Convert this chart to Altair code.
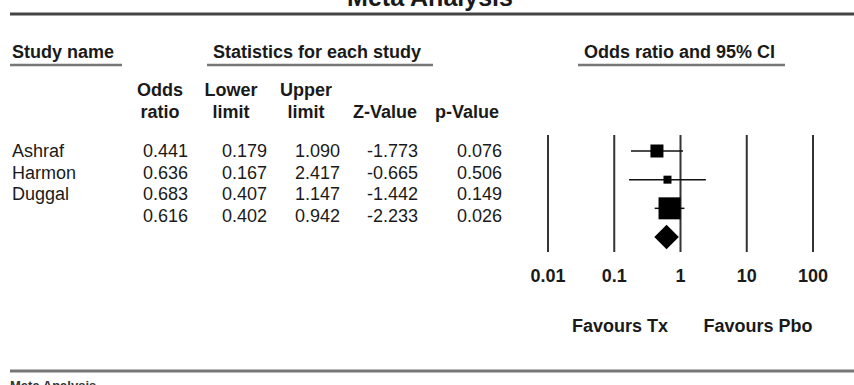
import altair as alt
import pandas as pd

# ---- data ----
studies = ["Ashraf", "Harmon", "Duggal", ""]
odds_ratio = [0.441, 0.636, 0.683, 0.616]
lower_limit = [0.179, 0.167, 0.407, 0.402]
upper_limit = [1.090, 2.417, 1.147, 0.942]
z_value = [-1.773, -0.665, -1.442, -2.233]
p_value = [0.076, 0.506, 0.149, 0.026]
# relative weights (%)
weights = [23.6, 8.9, 67.5]

header_line1 = ["Odds", "Lower", "Upper", "", ""]
header_line2 = ["ratio", "limit", "limit", "Z-Value", "p-Value"]

tick_values = [0.01, 0.1, 1, 10, 100]
tick_labels = ["0.01", "0.1", "1", "10", "100"]

FONT = "Liberation Sans"
INK = "#1a1a1a"

# column layout (pixels): right edges of values, centres of headers
col_right = [188, 267, 340, 418, 502]
col_center = [160, 231, 306, 385, 467]

rows = list(range(len(studies)))
study_df = pd.DataFrame({
    "row": rows[:3], "study": studies[:3], "or": odds_ratio[:3],
    "lo": lower_limit[:3], "hi": upper_limit[:3], "w": weights,
})
summary_df = pd.DataFrame({"row": [3], "or": [odds_ratio[3]],
                           "lo": [lower_limit[3]], "hi": [upper_limit[3]]})
names_df = pd.DataFrame({"row": rows, "study": studies})
values = [odds_ratio, lower_limit, upper_limit, z_value, p_value]
tick_df = pd.DataFrame({"t": tick_values, "label": tick_labels})

# ---- scales (pixel ranges) ----
x_log = alt.Scale(type="log", domain=[0.01, 100], range=[548, 813], nice=False)
y_forest = alt.Scale(domain=[0, 3], range=[151, 237], zero=False, nice=False)
y_table = alt.Scale(domain=[0, 3], range=[152, 217], zero=False, nice=False)

dummy = pd.DataFrame({"a": [0]})


def hrule(x1, x2, y, color, width):
    return alt.Chart(dummy).mark_rule(color=color, strokeWidth=width).encode(
        x=alt.value(x1), x2=alt.value(x2), y=alt.value(y))


def label(text, x, y, size=18, bold=True, align="left", baseline="middle", color=INK):
    return alt.Chart(dummy).mark_text(
        text=text, font=FONT, fontSize=size, fontWeight="bold" if bold else "normal",
        align=align, baseline=baseline, color=color,
    ).encode(x=alt.value(x), y=alt.value(y))


# decorations
title = label("Meta Analysis", 430, 6, size=25, align="center", baseline="alphabetic")
top_line = hrule(10, 854, 14, "#444", 3)
bottom_line = hrule(10, 854, 371, "#777", 3)
foot = label("Meta Analysis", 10, 380, size=13, baseline="top", color="#333")

h_study = label("Study name", 12, 53)
h_stats = label("Statistics for each study", 213, 53)
h_forest = label("Odds ratio and 95% CI", 584, 53)
u1 = hrule(10, 122, 65, "#777", 2.5)
u2 = hrule(207, 433, 65, "#777", 2.5)
u3 = hrule(578, 785, 65, "#777", 2.5)

headers = []
for h1, h2, cx in zip(header_line1, header_line2, col_center):
    if h1:
        headers.append(label(h1, cx, 91, align="center"))
    headers.append(label(h2, cx, 113, align="center"))

names = alt.Chart(names_df).mark_text(font=FONT, fontSize=18, align="left",
                                      baseline="middle", color=INK).encode(
    x=alt.value(12), y=alt.Y("row:Q", scale=y_table, axis=None), text="study:N")

cells = []
for vals, xr in zip(values, col_right):
    cdf = pd.DataFrame({"row": rows, "text": [f"{v:.3f}" for v in vals]})
    cells.append(alt.Chart(cdf).mark_text(font=FONT, fontSize=18, align="right",
                                          baseline="middle", color=INK).encode(
        x=alt.value(xr), y=alt.Y("row:Q", scale=y_table, axis=None), text="text:N"))

# forest plot
refs = alt.Chart(tick_df).mark_rule(color="#333", strokeWidth=2).encode(
    x=alt.X("t:Q", scale=x_log, axis=None), y=alt.value(135), y2=alt.value(252))
ticks = alt.Chart(tick_df).mark_text(font=FONT, fontSize=18, fontWeight="bold",
                                     align="center", baseline="middle", color=INK).encode(
    x=alt.X("t:Q", scale=x_log, axis=None), y=alt.value(277), text="label:N")
ci = alt.Chart(study_df).mark_rule(color="#111", strokeWidth=1.5).encode(
    x=alt.X("lo:Q", scale=x_log, axis=None), x2="hi:Q",
    y=alt.Y("row:Q", scale=y_forest, axis=None))
squares = alt.Chart(study_df).mark_square(color="#000", opacity=1, filled=True).encode(
    x=alt.X("or:Q", scale=x_log, axis=None),
    y=alt.Y("row:Q", scale=y_forest, axis=None),
    size=alt.Size("w:Q", scale=alt.Scale(domain=[0, 67.5], range=[0, 484]), legend=None))
diamond = alt.Chart(summary_df).mark_point(shape="diamond", filled=True, color="#000",
                                           opacity=1, size=600).encode(
    x=alt.X("or:Q", scale=x_log, axis=None),
    y=alt.Y("row:Q", scale=y_forest, axis=None))
fav_tx = label("Favours Tx", 620, 327, align="center")
fav_pbo = label("Favours Pbo", 758, 327, align="center")

chart = alt.layer(
    title, top_line, bottom_line, foot,
    h_study, h_stats, h_forest, u1, u2, u3,
    *headers, names, *cells,
    refs, ticks, ci, squares, diamond, fav_tx, fav_pbo,
).resolve_scale(
    x="independent", y="independent", size="independent"
).properties(
    width=854, height=385, padding=0,
    autosize=alt.AutoSizeParams(type="none"),
).configure_view(stroke=None)

chart.save("out.html", embed_options={"renderer": "svg", "actions": False})
